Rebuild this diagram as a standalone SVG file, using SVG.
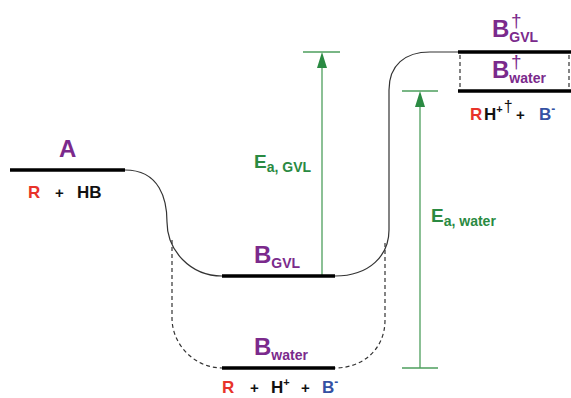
<svg xmlns="http://www.w3.org/2000/svg" width="571" height="398" viewBox="0 0 571 398">
<style>
text{font-family:"Liberation Sans",Arial,sans-serif;font-weight:bold}
.lvl{stroke:#000;stroke-width:3.5;fill:none}
.crv{stroke:#333;stroke-width:1.2;fill:none}
.dsh{stroke:#333;stroke-width:1.2;fill:none;stroke-dasharray:4 3}
.gr{stroke:#4d9e5c;stroke-width:1.3;fill:none}
.pu{fill:#7b2a8c}
.rd{fill:#e8332a}
.bl{fill:#3451a3}
.bk{fill:#111}
.gt{fill:#2a8a42}
.big{font-size:24px}
.sub{font-size:14px}
.sp{font-size:17px}
.dag{font-size:19px;font-weight:normal}
</style>
<g id="connectors">
<path class="crv" d="M125,170 C160,170 167,200 167,222 C167,250 190,276 222,276"/>
<path class="dsh" d="M172,240 L172,318 C172,345 195,368 222,368"/>
<path class="crv" d="M335,276 C370,276 389,255 389,230 L389,90 C389,65 405,52 430,52 L458,52"/>
<path class="dsh" d="M385,243 L385,320 C385,350 362,368 335,368"/>
<path class="dsh" d="M460,55 L460,89 M569,55 L569,89"/>
<line class="gr" x1="322" y1="276" x2="322" y2="66"/>
<path d="M317,68 L322,52 L327,68 Z" fill="#2a8a42"/>
<line class="gr" x1="303" y1="52" x2="340" y2="52"/>
<line class="gr" x1="420" y1="368" x2="420" y2="106"/>
<path d="M415,107 L420,91 L425,107 Z" fill="#2a8a42"/>
<line class="gr" x1="402" y1="91" x2="438" y2="91"/>
<line class="gr" x1="402" y1="368" x2="438" y2="368"/>
</g>
<g id="A">
<line class="lvl" x1="10" y1="170" x2="125" y2="170"/>
<text x="59" y="157" class="pu big">A</text>
<text x="28" y="198" class="rd sp">R</text>
<text x="55" y="198" class="bk" font-size="15">+</text>
<text x="77" y="198" class="bk sp">HB</text>
</g>
<g id="BGVL">
<line class="lvl" x1="222" y1="276" x2="335" y2="276"/>
<text x="254" y="263" class="pu big">B<tspan class="sub" dy="5">GVL</tspan></text>
</g>
<g id="Bwater">
<line class="lvl" x1="222" y1="368" x2="335" y2="368"/>
<text x="254" y="355" class="pu big">B<tspan class="sub" dy="5">water</tspan></text>
<text x="222" y="393" class="rd sp">R</text>
<text x="250" y="393" class="bk" font-size="15">+</text>
<text x="271" y="393" class="bk sp">H<tspan font-size="11" dy="-7">+</tspan></text>
<text x="301" y="393" class="bk" font-size="15">+</text>
<text x="322" y="393" class="bl sp">B<tspan font-size="12" dy="-7">-</tspan></text>
</g>
<g id="TS">
<line class="lvl" x1="458" y1="52" x2="571" y2="52"/>
<line class="lvl" x1="458" y1="91" x2="571" y2="91"/>
<text x="492" y="37" class="pu big">B<tspan class="sub" dy="5">GVL</tspan></text>
<text x="511" y="27" class="pu dag">†</text>
<text x="492" y="78" class="pu big">B<tspan class="sub" dy="5">water</tspan></text>
<text x="511" y="68" class="pu dag">†</text>
<text x="470" y="120" class="rd sp">R</text>
<text x="484" y="120" class="bk sp">H<tspan font-size="11" dy="-7">+</tspan><tspan font-size="16" font-weight="normal" dx="1" dy="-1">†</tspan></text>
<text x="516" y="120" class="bk" font-size="15">+</text>
<text x="539" y="120" class="bl sp">B<tspan font-size="12" dy="-7">-</tspan></text>
</g>
<g id="EaGVL">
<text x="254" y="168" class="gt" font-size="19">E<tspan class="sub" dy="4">a, GVL</tspan></text>
</g>
<g id="Eawater">
<text x="431" y="222" class="gt" font-size="19">E<tspan class="sub" dy="4">a, water</tspan></text>
</g>
</svg>
